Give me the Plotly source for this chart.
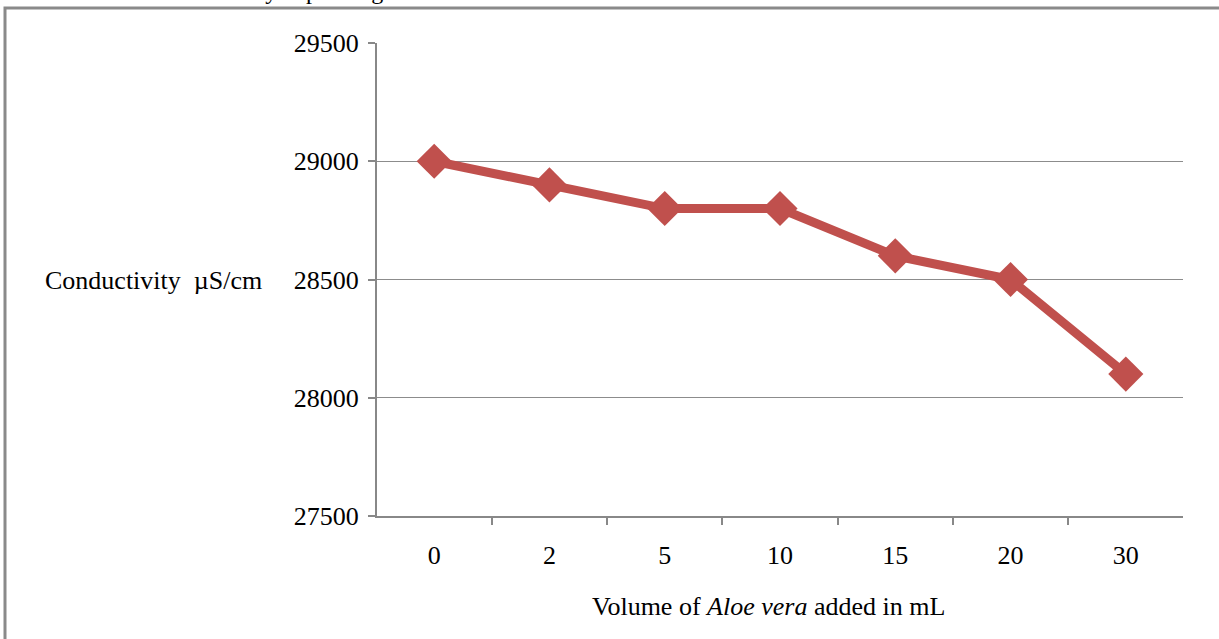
import plotly.graph_objects as go

volumes = ["0", "2", "5", "10", "15", "20", "30"]
conductivity = [29000, 28900, 28800, 28800, 28600, 28500, 28100]
y_ticks = [27500, 28000, 28500, 29000, 29500]

FONT = "Liberation Serif, Times New Roman, serif"
W, H = 1219, 639
L, T = 377, 43
R = W - 1183
B = H - 516
pw, ph = W - L - R, H - T - B

def px_x(px):
    return (px - L) / pw

def px_y(py):
    return (H - B - py) / ph

fig = go.Figure()
fig.add_trace(go.Scatter(
    x=volumes, y=conductivity, mode="lines+markers",
    line=dict(color="#C0504D", width=9),
    marker=dict(symbol="diamond", size=27, color="#C0504D"),
    showlegend=False, cliponaxis=False,
))

fig.update_layout(
    width=W, height=H,
    margin=dict(l=L, r=R, t=T, b=B),
    paper_bgcolor="white", plot_bgcolor="white",
    font=dict(family=FONT, size=26, color="black"),
    xaxis=dict(
        type="category", tickson="boundaries", ticks="outside", ticklen=7,
        tickcolor="#888", tickwidth=2, showline=True, linecolor="#888", linewidth=2,
        showgrid=False, tickfont=dict(size=26), ticklabelstandoff=15,
    ),
    yaxis=dict(
        range=[27500, 29500], tickvals=y_ticks, tickformat="d", ticks="outside", ticklen=7,
        tickcolor="#888", tickwidth=2, showline=True, linecolor="#888", linewidth=2,
        showgrid=True, gridcolor="#8c8c8c", gridwidth=1, zeroline=False,
        tickfont=dict(size=26), ticklabelstandoff=4,
    ),
)

# Frame around the figure (extends beyond window right/bottom)
fig.add_shape(type="rect", xref="paper", yref="paper",
              x0=px_x(5), x1=px_x(1260), y0=px_y(8), y1=px_y(700),
              line=dict(color="#8a8a8a", width=3), fillcolor="rgba(0,0,0,0)", layer="below")

# Y axis title (horizontal)
fig.add_annotation(xref="paper", yref="paper", x=px_x(264), y=px_y(280),
                   xanchor="right", yanchor="middle", showarrow=False,
                   text="Conductivity  µS/cm", font=dict(family=FONT, size=26))

# X axis title
fig.add_annotation(xref="paper", yref="paper", x=px_x(768), y=px_y(606),
                   xanchor="center", yanchor="middle", showarrow=False,
                   text="Volume of <i>Aloe vera</i> added in mL", font=dict(family=FONT, size=26))

# Cropped caption at the very top (only its lowest part shows, as in the reference)
fig.add_annotation(xref="paper", yref="paper", x=px_x(0), y=px_y(6),
                   xanchor="left", yanchor="bottom", showarrow=False,
                   text="Variation of the conductivity depending on the amount",
                   font=dict(family=FONT, size=24))

fig.write_html("out.html", config={"displayModeBar": False},
               post_script="document.body.style.margin='0px';")
